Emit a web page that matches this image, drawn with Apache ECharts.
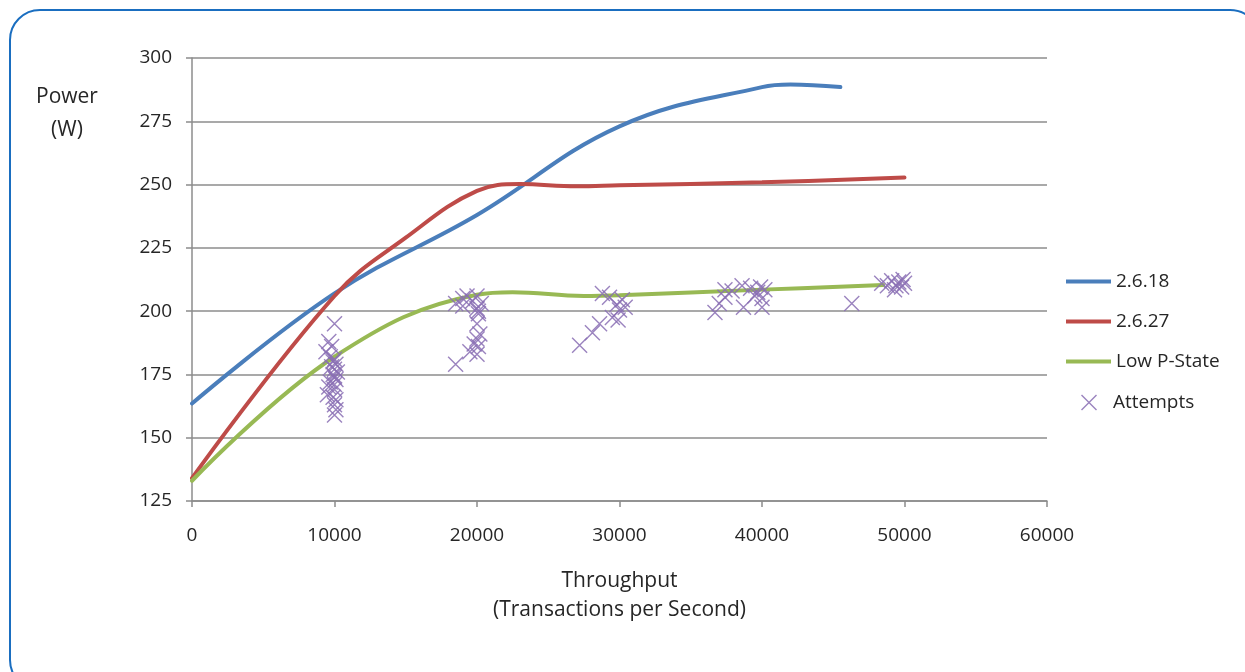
<!DOCTYPE html>
<html>
<head>
<meta charset="utf-8">
<script src="https://cdn.jsdelivr.net/npm/echarts@6/dist/echarts.min.js"></script>
<style>
  html, body { margin: 0; padding: 0; background: #fff; }
  #chart { width: 1245px; height: 672px; }
</style>
</head>
<body>
<div id="chart"></div>
<script>
// Power draw (W) against throughput (transactions per second)
const kernel2618 = [[0, 163.5], [10000, 207], [20000, 238], [30000, 273], [40000, 288.5], [42000, 289.5], [45500, 288.5]];
const kernel2627 = [[0, 134], [10000, 206], [15000, 229], [20000, 247.5], [23000, 250.2], [27000, 249.3], [30000, 249.7], [40000, 250.9], [50000, 252.8]];
const lowPState = [[0, 133], [10000, 182], [20000, 206.5], [22500, 207.5], [27500, 206], [30000, 206.3], [40000, 208.5], [48500, 210.3]];
const attempts = [
  // ~10000 tps
  [10000, 195], [9600, 188], [9800, 186], [9400, 184], [9700, 182], [10000, 181], [9900, 180], [10100, 179],
  [9800, 178], [10000, 177], [10200, 176], [9900, 175], [10000, 174], [10100, 173], [9700, 172], [10000, 171],
  [9600, 170], [10000, 169], [9500, 167], [9900, 166], [10100, 165], [10000, 163], [10100, 161], [10000, 159],
  // ~20000 tps
  [18500, 179], [19500, 184], [19800, 187], [20000, 183], [20100, 186], [20000, 189], [20200, 191], [20000, 195],
  [20100, 199], [20000, 201], [18500, 203], [19000, 205], [19300, 206], [19700, 204], [20000, 206], [20300, 203],
  [19000, 202], [20100, 200],
  // ~30000 tps
  [27200, 186.5], [28100, 191.5], [28600, 195], [28800, 207], [29300, 205.5], [29800, 202.5], [30000, 200.5],
  [29500, 197.5], [29900, 196.5], [30200, 204.5], [30400, 201.5],
  // ~38000-40000 tps
  [36700, 199.5], [37000, 203], [37400, 205.5], [37400, 208.5], [37900, 208], [38600, 210], [38700, 201.5],
  [39200, 209], [39500, 206], [39700, 207.5], [40000, 205], [40000, 201.5], [40200, 208.5], [39900, 209.5],
  // ~46000-50000 tps
  [46300, 203], [48400, 211], [48800, 210], [49100, 212], [49400, 210], [49600, 211.5], [49800, 209.5],
  [50000, 211], [49300, 208.5], [49900, 212.5]
];
const yTicks = { min: 125, max: 300, step: 25 };
const xTicks = { min: 0, max: 60000, step: 10000 };

const FONT = '"Open Sans", sans-serif';
const TEXT = '#262626';
const GRID_GRAY = '#8c8c8c';
const crossPath = 'path://M0,1 L1,0 L16,15 L15,16 Z M15,0 L16,1 L1,16 L0,15 Z';

const chart = echarts.init(document.getElementById('chart'), null, { renderer: 'canvas' });

chart.setOption({
  animation: false,
  backgroundColor: '#fff',
  textStyle: { fontFamily: FONT },
  grid: { left: 192, right: 198, top: 58, bottom: 171, containLabel: false },
  graphic: [
    {
      type: 'rect',
      shape: { x: 10, y: 10, width: 1250, height: 680, r: 30 },
      style: { fill: 'none', stroke: '#1a6ec0', lineWidth: 2 },
      silent: true
    },
    {
      type: 'text',
      x: 67, y: 81,
      style: {
        text: 'Power\n(W)', fill: TEXT, font: '21px ' + FONT,
        align: 'center', verticalAlign: 'top', lineHeight: 33
      }
    }
  ],
  legend: [
    {
      data: [
        { name: '2.6.18', icon: 'rect' },
        { name: '2.6.27', icon: 'rect' },
        { name: 'Low P-State', icon: 'rect' }
      ],
      orient: 'vertical',
      left: 1061, top: 267,
      itemWidth: 45, itemHeight: 4, itemGap: 21,
      textStyle: { color: TEXT, fontSize: 19, fontFamily: FONT },
      selectedMode: false
    },
    {
      data: [{ name: 'Attempts', icon: crossPath }],
      orient: 'vertical',
      left: 1076, top: 388,
      itemWidth: 16, itemHeight: 16,
      textStyle: { color: TEXT, fontSize: 19, fontFamily: FONT, padding: [0, 0, 0, 11] },
      selectedMode: false
    }
  ],
  xAxis: {
    type: 'value',
    min: xTicks.min, max: xTicks.max, interval: xTicks.step,
    name: 'Throughput\n(Transactions per Second)',
    nameLocation: 'middle', nameGap: 66,
    nameTextStyle: { color: TEXT, fontSize: 21, fontFamily: FONT, lineHeight: 29 },
    axisLine: { show: true, lineStyle: { color: GRID_GRAY, width: 1.5 } },
    axisTick: { show: true, inside: false, length: 6, lineStyle: { color: GRID_GRAY, width: 1.5 } },
    axisLabel: { color: TEXT, fontSize: 19, fontFamily: FONT, margin: 25, formatter: v => String(v) },
    splitLine: { show: false }
  },
  yAxis: {
    type: 'value',
    min: yTicks.min, max: yTicks.max, interval: yTicks.step,
    axisLine: { show: true, lineStyle: { color: GRID_GRAY, width: 1.5 } },
    axisTick: { show: true, inside: false, length: 6, lineStyle: { color: GRID_GRAY, width: 1.5 } },
    axisLabel: { color: TEXT, fontSize: 19, fontFamily: FONT, margin: 20, formatter: v => String(v) },
    splitLine: { show: true, lineStyle: { color: GRID_GRAY, width: 1.5 } }
  },
  series: [
    {
      name: '2.6.18', type: 'line', data: kernel2618, smooth: 0.4,
      showSymbol: false, symbol: 'none',
      lineStyle: { color: '#4a7ebb', width: 4, cap: 'round' }, itemStyle: { color: '#4a7ebb' }, z: 3
    },
    {
      name: '2.6.27', type: 'line', data: kernel2627, smooth: 0.4,
      showSymbol: false, symbol: 'none',
      lineStyle: { color: '#be4b48', width: 4, cap: 'round' }, itemStyle: { color: '#be4b48' }, z: 3
    },
    {
      name: 'Low P-State', type: 'line', data: lowPState, smooth: 0.4,
      showSymbol: false, symbol: 'none',
      lineStyle: { color: '#98b954', width: 4, cap: 'round' }, itemStyle: { color: '#98b954' }, z: 3
    },
    {
      name: 'Attempts', type: 'scatter', data: attempts,
      symbol: crossPath, symbolSize: 16,
      itemStyle: { color: '#8a6fb4', opacity: 0.85 }, z: 4
    }
  ]
});
</script>
</body>
</html>
